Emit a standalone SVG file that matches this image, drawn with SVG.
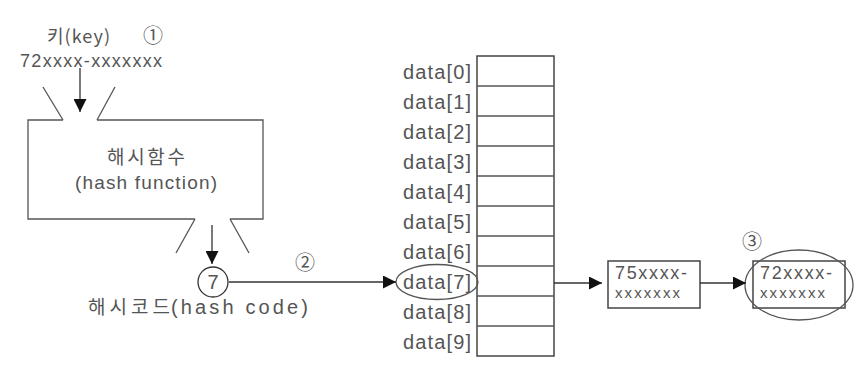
<svg xmlns="http://www.w3.org/2000/svg" width="868" height="367" viewBox="0 0 868 367">
<defs>
<marker id="ah" viewBox="0 0 10 10" refX="10" refY="5" markerWidth="13" markerHeight="13" markerUnits="userSpaceOnUse" orient="auto"><path d="M0,0 L10,5 L0,10 z" fill="#111"/></marker>
<style>
.t{font-family:"Liberation Sans","Noto Sans CJK KR",sans-serif;fill:#555;font-size:18px}
.k{font-family:"Noto Sans CJK KR","Liberation Sans",sans-serif;fill:#555;font-size:18px}
.ln{stroke:#555;stroke-width:1.3;fill:none}
.bx{stroke:#444;stroke-width:1.5;fill:#fff}
.ar{stroke:#333;stroke-width:1.3;fill:none;marker-end:url(#ah)}
</style>
</defs>
<rect width="868" height="367" fill="#fff"/>

<g id="key">
<text class="k" x="47" y="43" textLength="63" lengthAdjust="spacing">키(key)</text>
<text class="k" x="153" y="43" text-anchor="middle" style="font-size:20px">①</text>
<text class="t" x="20" y="67" textLength="142" lengthAdjust="spacing">72xxxx-xxxxxxx</text>
</g>

<g id="hashfunction">
<path class="ln" d="M63,120 L28,120 L28,219 L195,219 M230,219 L263,219 L263,120 L97,120"/>
<path class="ln" d="M43,87 L63,120 M115,87 L97,120"/>
<path class="ln" d="M195,219 L176,253 M230,219 L249,253"/>
<text class="k" x="146" y="164" text-anchor="middle" style="font-size:19px" textLength="78" lengthAdjust="spacing">해시함수</text>
<text class="t" x="146" y="189" text-anchor="middle" style="font-size:19px" textLength="142" lengthAdjust="spacing">(hash function)</text>
</g>

<g id="hashcode">
<circle cx="213" cy="282" r="15" fill="#fff" stroke="#333" stroke-width="1.3"/>
<text class="t" x="213" y="289" text-anchor="middle" style="font-size:20px">7</text>
<text class="k" x="88" y="314" style="font-size:19px"><tspan textLength="82" lengthAdjust="spacing">해시코드</tspan><tspan x="171" style="font-family:'Liberation Sans',sans-serif;font-size:20px" textLength="137" lengthAdjust="spacing">(hash code)</tspan></text>
</g>

<g id="table">
<rect class="bx" x="477" y="56" width="77" height="300"/>
<path class="ln" d="M477,86 H554 M477,116 H554 M477,146 H554 M477,176 H554 M477,206 H554 M477,236 H554 M477,266 H554 M477,296 H554 M477,326 H554"/>
<g class="t" style="font-size:20px">
<text x="471" y="79" text-anchor="end" textLength="68" lengthAdjust="spacing">data[0]</text>
<text x="471" y="109" text-anchor="end" textLength="68" lengthAdjust="spacing">data[1]</text>
<text x="471" y="139" text-anchor="end" textLength="68" lengthAdjust="spacing">data[2]</text>
<text x="471" y="169" text-anchor="end" textLength="68" lengthAdjust="spacing">data[3]</text>
<text x="471" y="199" text-anchor="end" textLength="68" lengthAdjust="spacing">data[4]</text>
<text x="471" y="229" text-anchor="end" textLength="68" lengthAdjust="spacing">data[5]</text>
<text x="471" y="259" text-anchor="end" textLength="68" lengthAdjust="spacing">data[6]</text>
<text x="471" y="289" text-anchor="end" textLength="68" lengthAdjust="spacing">data[7]</text>
<text x="471" y="319" text-anchor="end" textLength="68" lengthAdjust="spacing">data[8]</text>
<text x="471" y="349" text-anchor="end" textLength="68" lengthAdjust="spacing">data[9]</text>
</g>
<ellipse class="ln" cx="437" cy="282" rx="41" ry="17.5"/>
</g>

<g id="node75">
<rect class="bx" x="608" y="261" width="92" height="47"/>
<text class="t" x="615" y="279" textLength="72" lengthAdjust="spacing">75xxxx-</text>
<text class="t" x="615" y="298" style="font-size:15px" textLength="65" lengthAdjust="spacing">xxxxxxx</text>
</g>

<g id="node72">
<rect class="bx" x="753" y="261" width="92" height="47"/>
<text class="t" x="760" y="279" textLength="72" lengthAdjust="spacing">72xxxx-</text>
<text class="t" x="760" y="298" style="font-size:15px" textLength="65" lengthAdjust="spacing">xxxxxxx</text>
<ellipse class="ln" cx="799" cy="285" rx="54" ry="35"/>
<text class="k" x="752" y="249" text-anchor="middle" style="font-size:20px">③</text>
</g>

<g id="connectors">
<line class="ar" x1="80" y1="68" x2="80" y2="112"/>
<line class="ar" x1="212" y1="225" x2="212" y2="264"/>
<line class="ar" x1="229" y1="282" x2="396" y2="282"/>
<text class="k" x="305" y="270" text-anchor="middle" style="font-size:20px">②</text>
<line class="ar" x1="554" y1="283" x2="602" y2="283"/>
<line class="ar" x1="700" y1="283" x2="746" y2="283"/>
</g>
</svg>
